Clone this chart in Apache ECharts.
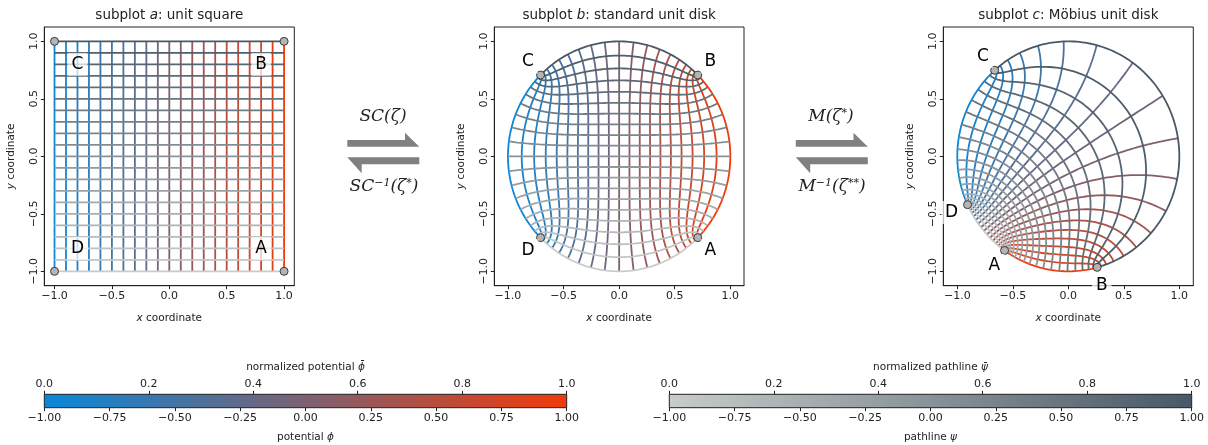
<!DOCTYPE html>
<html><head><meta charset="utf-8">
<script src="https://cdn.jsdelivr.net/npm/echarts@6/dist/echarts.min.js"></script>
<style>html,body{margin:0;padding:0;background:#fff}#c{width:1208px;height:445px}</style>
</head><body><div id="c"></div>
<script>
// ---------------- data ----------------
const potentialLevels = [-1.0,-0.9,-0.8,-0.7,-0.6,-0.5,-0.4,-0.3,-0.2,-0.1,0.0,0.1,0.2,0.3,0.4,0.5,0.6,0.7,0.8,0.9,1.0];
const pathlineLevels  = [-1.0,-0.9,-0.8,-0.7,-0.6,-0.5,-0.4,-0.3,-0.2,-0.1,0.0,0.1,0.2,0.3,0.4,0.5,0.6,0.7,0.8,0.9,1.0];
const cornerNames = ['A','B','C','D'];
const cornerSquare = [[1,-1],[1,1],[-1,1],[-1,-1]];
// corner positions read in subplot c (Möbius disk)
const cornerMobius = [[-0.573,-0.817],[0.259,-0.962],[-0.663,0.748],[-0.904,-0.420]];
const squareLabelXY = [[0.8,-0.8],[0.8,0.8],[-0.8,0.8],[-0.8,-0.8]];
const axisTickValues = [-1,-0.5,0,0.5,1];
const phiTicks = [-1,-0.75,-0.5,-0.25,0,0.25,0.5,0.75,1];
const normTicks = [0,0.2,0.4,0.6,0.8,1];
const potentialColors = [[8,136,218],[242,58,10]];
const pathlineColors = [[200,204,202],[72,88,102]];
const titles = [['subplot ','a',': unit square'],['subplot ','b',': standard unit disk'],['subplot ','c',': Möbius unit disk']];

// ---------------- helpers ----------------
const FONT = 'DejaVu Sans';
const TXT = '#222';
function lerpColor(cs, v){ const t=(v+1)/2; const c=cs[0].map((a,i)=>Math.round(a+(cs[1][i]-a)*t)); return 'rgb('+c.join(',')+')'; }
function cstr(cs, t){ const c=cs[0].map((a,i)=>Math.round(a+(cs[1][i]-a)*t)); return 'rgb('+c.join(',')+')'; }
const mul=(a,b)=>[a[0]*b[0]-a[1]*b[1], a[0]*b[1]+a[1]*b[0]];
const sub=(a,b)=>[a[0]-b[0], a[1]-b[1]];
const add=(a,b)=>[a[0]+b[0], a[1]+b[1]];
const neg=a=>[-a[0],-a[1]];
const div=(a,b)=>{const d=b[0]*b[0]+b[1]*b[1]; return [(a[0]*b[0]+a[1]*b[1])/d, (a[1]*b[0]-a[0]*b[1])/d];};

function ellipj(u, m){
  if (Math.abs(u) < 1e-15) return [0,1,1];
  const a=[1], c=[Math.sqrt(m)]; let b=Math.sqrt(1-m), n=0;
  while (Math.abs(c[n])>1e-14 && n<20){ const an=a[n]; a.push((an+b)/2); c.push((an-b)/2); b=Math.sqrt(an*b); n++; }
  let phi=Math.pow(2,n)*a[n]*u;
  for (let j=n;j>0;j--) phi=(Math.asin(c[j]*Math.sin(phi)/a[j])+phi)/2;
  const s=Math.sin(phi), cc=Math.cos(phi);
  return [s, cc, Math.sqrt(1-m*s*s)];
}
const KK = 1.8540746773013719;
const clampU = v => Math.max(-0.9999995, Math.min(0.9999995, v));
// Schwarz–Christoffel: unit square [-1,1]^2 -> unit disk
function sqToDisk(p){
  const zx=clampU(p[0]), zy=clampU(p[1]);
  const [s,c,d]=ellipj(KK*zx,0.5), [s1,c1,d1]=ellipj(KK*zy,0.5);
  const del=c1*c1+0.5*s*s*s1*s1;
  return div([s*d1, c*d*s1*c1],[del+c*c1, -s*d*s1*d1]);
}
function matFrom3(p){ // maps p0->0, p1->1, p2->inf
  const q=sub(p[1],p[2]), r=sub(p[1],p[0]);
  return [[q, neg(mul(p[0],q))],[r, neg(mul(p[2],r))]];
}
const diskCorners = cornerSquare.map(sqToDisk);
const mobTargets = cornerMobius.map(p=>{const r=Math.hypot(p[0],p[1]); return [p[0]/r,p[1]/r];});
const T = matFrom3(diskCorners.slice(0,3)), S = matFrom3(mobTargets.slice(0,3));
const Si = [[S[1][1], neg(S[0][1])],[neg(S[1][0]), S[0][0]]];
const M = [[add(mul(Si[0][0],T[0][0]),mul(Si[0][1],T[1][0])), add(mul(Si[0][0],T[0][1]),mul(Si[0][1],T[1][1]))],
           [add(mul(Si[1][0],T[0][0]),mul(Si[1][1],T[1][0])), add(mul(Si[1][0],T[0][1]),mul(Si[1][1],T[1][1]))]];
function mobius(w){ return div(add(mul(M[0][0],w),M[0][1]), add(mul(M[1][0],w),M[1][1])); }

const maps = [p=>p, sqToDisk, p=>mobius(sqToDisk(p))];
const NS = 241;
function curve(kind, level, f){
  const out=[];
  for (let i=0;i<NS;i++){ const t=-1+2*i/(NS-1); out.push(f(kind==='pot'?[level,t]:[t,level])); }
  return out;
}

// ---------------- layout ----------------
const panels = [
  {left:44.3, width:250, xr:1.089},
  {left:494.3, width:249.7, xr:1.123},
  {left:943.3, width:250, xr:1.126}
];
const PT=27, PH=258.7, YR=1.125;
const fmt1 = v => (v<0?'\u2212':'')+Math.abs(v).toFixed(1);
const fmt2 = v => (v<0?'\u2212':'')+Math.abs(v).toFixed(2);

const grid=[], xAxis=[], yAxis=[], series=[], graphic=[];
panels.forEach((P,i)=>{
  grid.push({left:P.left, top:PT, width:P.width, height:PH, show:true, borderColor:'#222', borderWidth:1, backgroundColor:'transparent', outerBoundsMode:'none', containLabel:false});
  xAxis.push({gridIndex:i, type:'value', min:-P.xr, max:P.xr, splitLine:{show:false},
    axisLine:{show:true, onZero:false, lineStyle:{color:'#222'}},
    axisTick:{customValues:axisTickValues, length:3.5, lineStyle:{color:'#222'}},
    axisLabel:{customValues:axisTickValues, formatter:fmt1, fontSize:11, fontFamily:FONT, color:TXT, margin:5},
    name:'{i|x} coordinate', nameLocation:'middle', nameGap:27,
    nameTextStyle:{fontSize:10.5, fontFamily:FONT, color:TXT, rich:{i:{fontStyle:'italic', fontSize:10.5, fontFamily:FONT, color:TXT}}}});
  yAxis.push({gridIndex:i, type:'value', min:-YR, max:YR, splitLine:{show:false},
    axisLine:{show:true, onZero:false, lineStyle:{color:'#222'}},
    axisTick:{customValues:axisTickValues, length:3.5, lineStyle:{color:'#222'}},
    axisLabel:{customValues:axisTickValues, formatter:fmt1, fontSize:11, fontFamily:FONT, color:TXT, margin:5, rotate:90},
    name:'{i|y} coordinate', nameLocation:'middle', nameGap:28,
    nameTextStyle:{fontSize:10.5, fontFamily:FONT, color:TXT, rich:{i:{fontStyle:'italic', fontSize:10.5, fontFamily:FONT, color:TXT}}}});
  const f = maps[i];
  potentialLevels.forEach(v=>{
    series.push({type:'line', xAxisIndex:i, yAxisIndex:i, data:curve('pot',v,f), showSymbol:false, symbol:'none', silent:true,
      lineStyle:{color:lerpColor(potentialColors,v), width:1.8}, z:2});
  });
  pathlineLevels.forEach(v=>{
    series.push({type:'line', xAxisIndex:i, yAxisIndex:i, data:curve('path',v,f), showSymbol:false, symbol:'none', silent:true,
      lineStyle:{color:lerpColor(pathlineColors,v), width:1.8}, z:3});
  });
  const corners = cornerSquare.map(f);
  series.push({type:'scatter', xAxisIndex:i, yAxisIndex:i, data:corners, symbolSize:8, clip:false, silent:true,
    itemStyle:{color:'#b4b4b4', borderColor:'#3a3a3a', borderWidth:1, opacity:1}, z:5});
  const lab = i===0 ? squareLabelXY : corners.map(c=>[c[0]*1.16, c[1]*1.16]);
  series.push({type:'scatter', xAxisIndex:i, yAxisIndex:i, clip:false, silent:true, symbolSize:1,
    data: lab.map((c,k)=>({value:c, name:cornerNames[k]})),
    itemStyle:{color:'rgba(0,0,0,0)'},
    label:{show:true, position:'inside', formatter:'{b}', fontSize:17, fontFamily:FONT, color:'#000', opacity:1,
      textBorderWidth:0, backgroundColor:'rgba(255,255,255,0.72)', padding:[3,4]}, z:10});
  graphic.push({type:'text', silent:true, style:{x:P.left+P.width/2, y:15, text:'{n|'+titles[i][0]+'}{i|'+titles[i][1]+'}{n|'+titles[i][2]+'}',
    textAlign:'center', textVerticalAlign:'middle',
    rich:{n:{fontSize:13.5, fontFamily:FONT, fill:TXT, color:TXT}, i:{fontSize:13.5, fontFamily:FONT, fontStyle:'italic', fill:TXT, color:TXT}}}});
});

// colorbars
const bars = [
  {left:44.3, cols:potentialColors, top:'normalized potential ', sym:'\u03D5\u0304', bot:'potential ', bsym:'\u03D5'},
  {left:669.3, cols:pathlineColors, top:'normalized pathline ', sym:'\u03C8\u0304', bot:'pathline ', bsym:'\u03C8'}
];
bars.forEach((B,j)=>{
  const gi = 3+j;
  grid.push({left:B.left, top:394.3, width:522.4, height:13.4, show:true, borderColor:'#222', borderWidth:1,
    outerBoundsMode:'none', containLabel:false,
    backgroundColor:new echarts.graphic.LinearGradient(0,0,1,0,[{offset:0,color:cstr(B.cols,0)},{offset:1,color:cstr(B.cols,1)}])});
  xAxis.push({gridIndex:gi, type:'value', position:'bottom', min:-1, max:1, interval:0.25, splitLine:{show:false},
    axisLine:{show:false, onZero:false}, axisTick:{length:3.5, lineStyle:{color:'#222'}},
    axisLabel:{formatter:fmt2, fontSize:11, fontFamily:FONT, color:TXT, margin:5},
    name:B.bot+'{i|'+B.bsym+'}', nameLocation:'middle', nameGap:24,
    nameTextStyle:{fontSize:10.5, fontFamily:FONT, color:TXT, rich:{i:{fontStyle:'italic', fontSize:10.5, fontFamily:FONT, color:TXT}}}});
  xAxis.push({gridIndex:gi, type:'value', position:'top', min:0, max:1, interval:0.2, splitLine:{show:false},
    axisLine:{show:false, onZero:false}, axisTick:{length:3.5, lineStyle:{color:'#222'}},
    axisLabel:{formatter:fmt1, fontSize:11, fontFamily:FONT, color:TXT, margin:5},
    name:B.top+'{i|'+B.sym+'}', nameLocation:'middle', nameGap:22,
    nameTextStyle:{fontSize:10.5, fontFamily:FONT, color:TXT, rich:{i:{fontStyle:'italic', fontSize:10.5, fontFamily:FONT, color:TXT}}}});
  yAxis.push({gridIndex:gi, type:'value', show:false, min:0, max:1});
});

// arrows and transform labels
function harpoons(dx){
  return [
    {type:'polygon', silent:true, shape:{points:[[347.3+dx,140],[405+dx,140],[405+dx,132.7],[419.3+dx,146.7],[347.3+dx,146.7]]}, style:{fill:'#808080'}},
    {type:'polygon', silent:true, shape:{points:[[419.3+dx,157.3],[347.3+dx,157.3],[361.7+dx,173.3],[361.7+dx,164.3],[419.3+dx,164.3]]}, style:{fill:'#808080'}}
  ];
}
const SER = 'DejaVu Serif';
const mrich = {n:{fontSize:17, fontFamily:SER, fontStyle:'italic', fill:'#222', color:'#222'},
               s:{fontSize:11, fontFamily:SER, fontStyle:'italic', fill:'#222', color:'#222', verticalAlign:'top', padding:[0,0,8,0]}};
graphic.push(...harpoons(0), ...harpoons(448.5));
graphic.push({type:'text', silent:true, style:{x:383, y:117, text:'{n|SC(\u03B6)}', textAlign:'center', textVerticalAlign:'middle', rich:mrich}});
graphic.push({type:'text', silent:true, style:{x:384, y:187, text:'{n|SC}{s|\u22121}{n|(\u03B6}{s|*}{n|)}', textAlign:'center', textVerticalAlign:'middle', rich:mrich}});
graphic.push({type:'text', silent:true, style:{x:831, y:117, text:'{n|M(\u03B6}{s|*}{n|)}', textAlign:'center', textVerticalAlign:'middle', rich:mrich}});
graphic.push({type:'text', silent:true, style:{x:832, y:187, text:'{n|M}{s|\u22121}{n|(\u03B6}{s|**}{n|)}', textAlign:'center', textVerticalAlign:'middle', rich:mrich}});

const chart = echarts.init(document.getElementById('c'), null, {renderer:'canvas'});
chart.setOption({animation:false, backgroundColor:'#fff', grid, xAxis, yAxis, series, graphic});
</script></body></html>
